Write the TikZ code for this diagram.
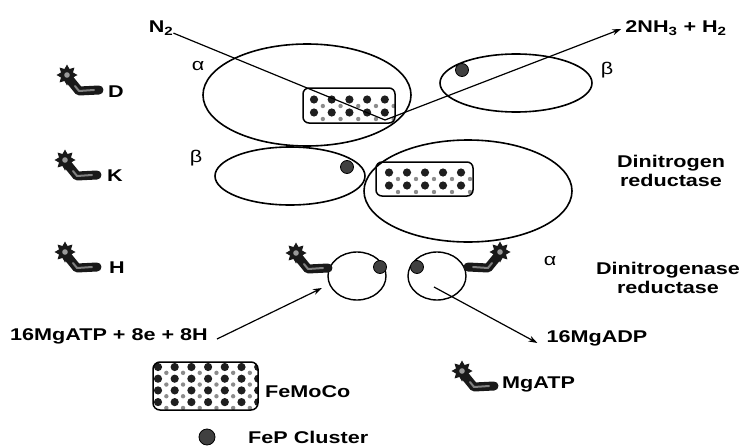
\documentclass[tikz,border=0pt]{standalone}
\usepackage{fontspec}
\setmainfont[FakeStretch=1.27]{Liberation Sans}
\usetikzlibrary{shapes.geometric,arrows.meta}

% grid of cofactor dots: x0 y0 dx dy ncols nrows
\newcommand\cofactordots[6]{%
  \foreach \i in {1,...,#5}{\foreach \j in {1,...,#6}{%
    \fill[black!45] ({#1+(\i-0.5)*#3},{#2+(\j-0.5)*#4}) circle[radius=2.2];
    \fill[black!88] ({#1+(\i-1)*#3},{#2+(\j-1)*#4}) circle[radius=4.1];}}}

\begin{document}
\begin{tikzpicture}[x=1pt,y=-1pt,
  lbl/.style={font=\bfseries\fontsize{17}{19}\selectfont, inner sep=0pt},
  greek/.style={font=\fontsize{17}{19}\selectfont, inner sep=0pt},
  subunit/.style={ellipse, draw, line width=1.6pt, inner sep=0pt},
  feprot/.style={ellipse, draw, line width=1.4pt, inner sep=0pt,
    minimum width=58pt, minimum height=48pt},
  fep/.style={circle, draw=black, line width=0.8pt, fill=black!75,
    minimum size=13pt, inner sep=0pt},
  cofactor/.style={rectangle, rounded corners=6pt, draw, line width=1.5pt,
    inner sep=0pt},
  flow/.style={line width=1.2pt, -{Stealth[length=9pt,width=6pt]}},
  mgatp/.pic={
    \draw[line width=9pt, line cap=round, line join=round, black!90]
      (3,5) -- (12,16) -- (32,15);
    \draw[line width=2pt, line cap=round, line join=round, black!50]
      (8,11) -- (12,16) -- (27,15);
    \fill[black!90] (0:10.5) \foreach \k in {1,...,15}{
      -- (\k*22.5:{ifthenelse(mod(\k,2)==0,10.5,6.5)}) } -- cycle;
    \fill[black!40] (0,0) circle[radius=2.8];
  },
]
\useasboundingbox (0,0) rectangle (739,447);

% ---- MoFe protein (dinitrogen reductase) ----
\node[subunit, minimum width=208pt, minimum height=102pt] (alphaI) at (307,95) {};
\node[subunit, minimum width=152pt, minimum height=58pt] (betaI) at (516,83) {};
\node[subunit, minimum width=150pt, minimum height=58pt] (betaII) at (290,176) {};
\node[subunit, minimum width=208pt, minimum height=102pt] (alphaII) at (468,191) {};

% FeMoCo in the upper alpha subunit
\begin{scope}
  \clip[rounded corners=6pt] (303,88) rectangle (395,123);
  \cofactordots{314}{99.5}{17.7}{13}{5}{2}
\end{scope}
\node[cofactor, minimum width=92pt, minimum height=35pt] (moI) at (349,105.5) {};

% FeMoCo in the lower alpha subunit
\begin{scope}
  \clip[rounded corners=6pt] (376,162) rectangle (473,196);
  \cofactordots{389}{172.5}{18}{13}{5}{2}
\end{scope}
\node[cofactor, minimum width=97pt, minimum height=34pt] (moII) at (424.5,179) {};

% P clusters
\node[fep] (pI) at (462,70) {};
\node[fep] (pII) at (347,167) {};

% ---- Fe protein (dinitrogenase reductase) ----
\node[feprot] (feL) at (357,276) {};
\node[feprot] (feR) at (437,276) {};
\node[fep] (pL) at (380,267) {};
\node[fep] (pR) at (417,267) {};
\pic at (296,253) {mgatp};
\pic[xscale=-1] at (500,252) {mgatp};

% ---- subunit labels ----
\node[greek] (la1) at (198,66) {α};
\node[greek] (lb1) at (607,70) {β};
\node[greek] (lb2) at (196,158) {β};
\node[greek] (la2) at (550,261) {α};

\node[lbl, align=center] (dr) at (671,171) {Dinitrogen\\reductase};
\node[lbl, align=center] (dnr) at (668,278) {Dinitrogenase\\reductase};

% ---- reaction ----
\node[lbl] (n2) at (161,28) {N\textsubscript{2}};
\node[lbl] (nh3) at (676,28) {2NH\textsubscript{3} + H\textsubscript{2}};
\coordinate (site) at (385,120);
\draw[line width=1.2pt] (n2) -- (site);
\draw[flow] (site) -- ([xshift=-4pt,yshift=-1pt]nh3.west);

\node[lbl] (atp) at (109,336) {16MgATP + 8e + 8H};
\node[lbl] (adp) at (597,338) {16MgADP};
\coordinate (inFe) at (322,288);
\coordinate (outFe) at (434,287);
\draw[flow] ([xshift=9pt,yshift=-3pt]atp.east) -- (inFe);
\draw[flow] (outFe) -- ([xshift=-9pt,yshift=-5pt]adp.west);

% ---- legend: subunits D, K, H ----
\pic at (67,75) {mgatp};
\node[lbl] (ld) at (116,92) {D};
\pic at (65,160) {mgatp};
\node[lbl] (lk) at (115,176) {K};
\pic at (65,252) {mgatp};
\node[lbl] (lh) at (117,268) {H};

% ---- legend: symbols ----
\begin{scope}
  \clip[rounded corners=7pt] (153,362) rectangle (258,410);
  \cofactordots{158}{367}{16.7}{11.7}{7}{4}
\end{scope}
\node[cofactor, minimum width=105pt, minimum height=48pt, rounded corners=7pt] (keyMo) at (205.5,386) {};
\node[lbl, anchor=west] (keyMoT) at (265,392) {FeMoCo};

\pic at (462,371) {mgatp};
\node[lbl, anchor=west] (keyAtpT) at (502,384) {MgATP};

\node[fep, minimum size=16pt] (keyP) at (207,437) {};
\node[lbl, anchor=west] (keyPT) at (248,437) {FeP Cluster};
\end{tikzpicture}
\end{document}
